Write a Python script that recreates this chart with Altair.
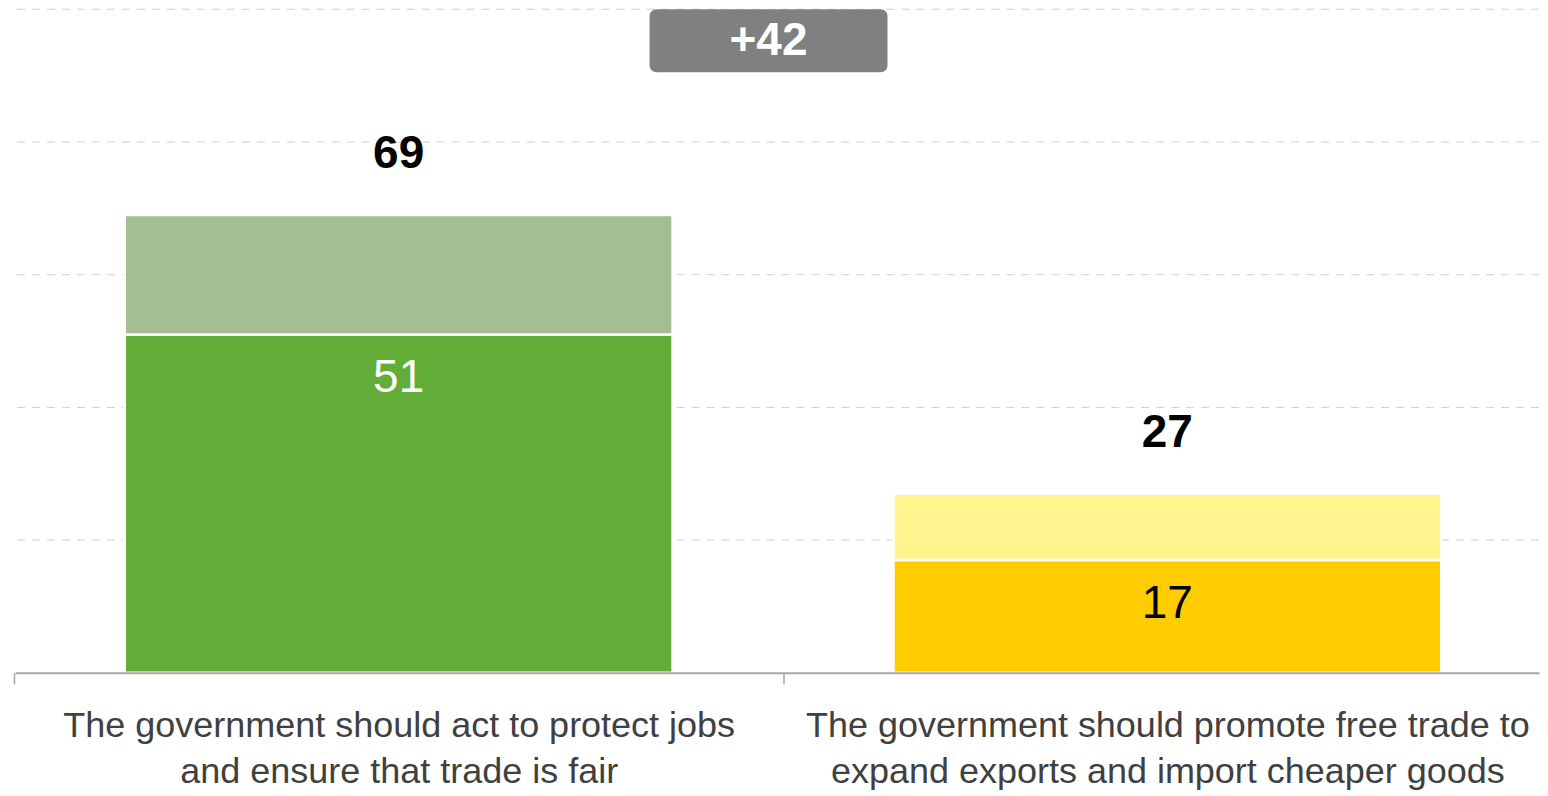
import altair as alt
import pandas as pd

# ---- data ----
categories = [
    "The government should act to protect jobs|and ensure that trade is fair",
    "The government should promote free trade to|expand exports and import cheaper goods",
]
strong_values = [51, 17]
lean_values = [18, 10]
total_values = [69, 27]
strong_colors = ["#62AD37", "#FFCC00"]
lean_colors = ["#A3BE91", "#FFF48D"]
inner_label_colors = ["#FFFFFF", "#000000"]
gap_label = ["+42"]
badge_x = [0.4164, 0.5725]
badge_y = [90.5, 100]
badge_text_pos = [0.4944, 95.2]
grid_values = [20, 40, 60, 80, 100]

FONT = "Liberation Sans"
W, H = 1525, 664
P_INNER, P_OUTER, ALIGN = 0.2874, 0.135, 0.529
STEP = W / (len(categories) - P_INNER + 2 * P_OUTER)

rows = []
for i, c in enumerate(categories):
    rows.append({"category": c, "segment": "strong", "value": strong_values[i], "order": 0,
                 "key": f"{i}-strong", "tc": inner_label_colors[i]})
    rows.append({"category": c, "segment": "lean", "value": lean_values[i], "order": 1,
                 "key": f"{i}-lean", "tc": inner_label_colors[i]})
seg_df = pd.DataFrame(rows)
keys = [f"{i}-{s}" for i in range(len(categories)) for s in ("strong", "lean")]
key_colors = [c for i in range(len(categories)) for c in (strong_colors[i], lean_colors[i])]

strong_df = seg_df[seg_df.segment == "strong"]
total_df = pd.DataFrame({"category": categories, "total": total_values})
grid_df = pd.DataFrame({"g": grid_values})

y_scale = alt.Scale(domain=[0, 100], nice=False)
no_view = alt.ViewBackground(stroke="transparent", strokeWidth=0)

x_enc = alt.X(
    "category:N",
    sort=categories,
    scale=alt.Scale(paddingInner=P_INNER, paddingOuter=P_OUTER, align=ALIGN),
    axis=alt.Axis(
        title=None,
        labelExpr="split(datum.value, '|')",
        labelFontSize=36,
        labelFont=FONT,
        labelColor="#404040",
        labelLineHeight=46,
        labelPadding=25,
        labelLimit=2000,
        labelAngle=0,
        labelOverlap=False,
        labelOffset=STEP / 2,
        tickSize=11,
        tickColor="#A6A6A6",
        tickWidth=1.5,
        tickOffset=-STEP / 2,
        domainColor="#A6A6A6",
        domainWidth=2,
        grid=False,
        zindex=1,
    ),
)

grid = alt.Chart(grid_df).mark_rule(
    color="#D0D0D0", strokeDash=[8, 7], strokeWidth=1
).encode(y=alt.Y("g:Q", scale=y_scale, axis=None))

bars = alt.Chart(seg_df).mark_bar(stroke="white", strokeWidth=2.5).encode(
    x=x_enc,
    y=alt.Y("value:Q", stack="zero", scale=y_scale, axis=None),
    color=alt.Color("key:N", scale=alt.Scale(domain=keys, range=key_colors), legend=None),
    order=alt.Order("order:Q"),
)

inner = alt.Chart(strong_df).mark_text(
    font=FONT, fontSize=46, baseline="middle", dy=44
).encode(
    x=alt.X("category:N", sort=categories),
    y=alt.Y("value:Q", scale=y_scale, axis=None),
    text=alt.Text("value:Q"),
    color=alt.Color("tc:N", scale=None),
)

totals = alt.Chart(total_df).mark_text(
    font=FONT, fontSize=46, fontWeight="bold", baseline="middle", dy=-61, color="#000000"
).encode(
    x=alt.X("category:N", sort=categories),
    y=alt.Y("total:Q", scale=y_scale, axis=None),
    text=alt.Text("total:Q"),
)

base = alt.layer(grid, bars, inner, totals, view=no_view)

badge_df = pd.DataFrame({
    "x": [badge_x[0]], "x2": [badge_x[1]], "y": [badge_y[0]], "y2": [badge_y[1]],
    "tx": [badge_text_pos[0]], "ty": [badge_text_pos[1]], "label": gap_label,
})
bx = alt.Scale(domain=[0, 1], nice=False, zero=False)
badge_rect = alt.Chart(badge_df).mark_rect(color="#808080", cornerRadius=7).encode(
    x=alt.X("x:Q", scale=bx, axis=None),
    x2="x2:Q",
    y=alt.Y("y:Q", scale=y_scale, axis=None),
    y2="y2:Q",
)
badge_text = alt.Chart(badge_df).mark_text(
    font=FONT, fontSize=46, fontWeight="bold", color="white", baseline="middle"
).encode(
    x=alt.X("tx:Q", scale=bx, axis=None),
    y=alt.Y("ty:Q", scale=y_scale, axis=None),
    text="label:N",
)
badge = alt.layer(badge_rect, badge_text, view=no_view)

chart = (
    alt.layer(base, badge, view=no_view)
    .resolve_scale(x="independent")
    .properties(width=W, height=H, padding={"left": 5, "top": 0, "right": 0, "bottom": 0})
    .configure_view(stroke="transparent", strokeWidth=0)
    .configure(background="white")
)

chart.save("out.html", embed_options={"renderer": "svg", "actions": False})
